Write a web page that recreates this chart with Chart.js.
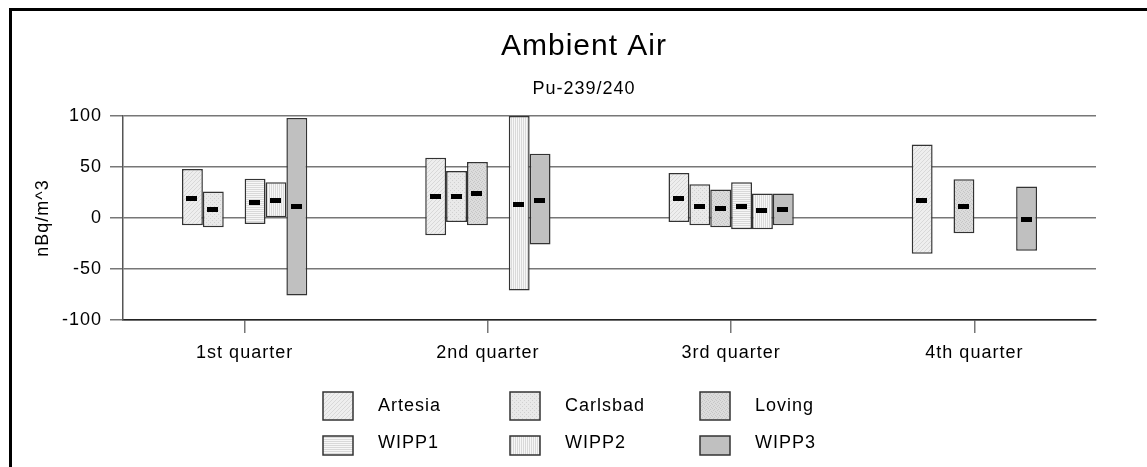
<!DOCTYPE html>
<html>
<head>
<meta charset="utf-8">
<script src="https://cdn.jsdelivr.net/npm/chart.js"></script>
<style>
  html, body { margin: 0; padding: 0; background: #fff; }
  #wrap { position: relative; width: 1147px; height: 467px; }
</style>
</head>
<body>
<div id="wrap"><canvas id="chart"></canvas></div>
<script>
// Ambient air Pu-239/240 - range bars per sampling site, one group per quarter

const chartTitle = 'Ambient Air';
const chartSubtitle = 'Pu-239/240';
const quarters = ['1st quarter', '2nd quarter', '3rd quarter', '4th quarter'];
const sites = ['Artesia', 'Carlsbad', 'Loving', 'WIPP1', 'WIPP2', 'WIPP3'];
const yTicks = [-100, -50, 0, 50, 100];

// low end, high end and measured value of each range (nBq/m^3), null = no sample
const artesiaLow   = [-7, -17, -4, -35];
const artesiaHigh  = [48, 59, 44, 72];
const artesiaMid   = [19, 21, 19, 17];

const carlsbadLow  = [-9, -4, -7, null];
const carlsbadHigh = [26, 46, 33, null];
const carlsbadMid  = [8, 21, 11, null];

const lovingLow    = [null, -7, -9, -15];
const lovingHigh   = [null, 55, 28, 38];
const lovingMid    = [null, 24, 9.5, 11];

const wipp1Low     = [-6, null, -11, null];
const wipp1High    = [38.5, null, 35, null];
const wipp1Mid     = [15, null, 11, null];

const wipp2Low     = [0, -71, -11, null];
const wipp2High    = [35, 100, 24, null];
const wipp2Mid     = [17.5, 13.5, 7, null];

const wipp3Low     = [-76, -26, -7, -32];
const wipp3High    = [98, 63, 24, 31];
const wipp3Mid     = [11, 17.5, 8, -1];

const lows  = [artesiaLow, carlsbadLow, lovingLow, wipp1Low, wipp2Low, wipp3Low];
const highs = [artesiaHigh, carlsbadHigh, lovingHigh, wipp1High, wipp2High, wipp3High];
const mids  = [artesiaMid, carlsbadMid, lovingMid, wipp1Mid, wipp2Mid, wipp3Mid];

const FONT = '"Liberation Sans", Arial, sans-serif';

// Small grey fill textures, like the old spreadsheet patterns
function makePattern(kind) {
  const c = document.createElement('canvas');
  c.width = 4;
  c.height = 4;
  const g = c.getContext('2d');
  const dot = (x, y, col) => { g.fillStyle = col; g.fillRect(x, y, 1, 1); };

  if (kind === 'diag') {
    g.fillStyle = '#eeeeee'; g.fillRect(0, 0, 4, 4);
    for (let i = 0; i < 4; i++) dot(i, 3 - i, '#d8d8d8');
  } else if (kind === 'dots') {
    g.fillStyle = '#e9e9e9'; g.fillRect(0, 0, 4, 4);
    dot(0, 0, '#d0d0d0'); dot(2, 2, '#d0d0d0');
  } else if (kind === 'dense') {
    g.fillStyle = '#dcdcdc'; g.fillRect(0, 0, 4, 4);
    dot(0, 0, '#c6c6c6'); dot(2, 1, '#c6c6c6'); dot(1, 2, '#c6c6c6'); dot(3, 3, '#c6c6c6');
  } else if (kind === 'hstripe') {
    g.fillStyle = '#d9d9d9'; g.fillRect(0, 0, 4, 4);
    g.fillStyle = '#f7f7f7'; g.fillRect(0, 0, 4, 1); g.fillRect(0, 2, 4, 1);
  } else if (kind === 'vstripe') {
    g.fillStyle = '#d9d9d9'; g.fillRect(0, 0, 4, 4);
    g.fillStyle = '#f7f7f7'; g.fillRect(0, 0, 1, 4); g.fillRect(2, 0, 1, 4);
  } else {
    g.fillStyle = '#c0c0c0'; g.fillRect(0, 0, 4, 4);
  }
  return g.createPattern(c, 'repeat');
}

const fills = ['diag', 'dots', 'dense', 'hstripe', 'vstripe', 'solid'].map(makePattern);

const datasets = sites.map((name, s) => ({
  label: name,
  data: lows[s].map((lo, i) => (lo === null ? null : [lo, highs[s][i]])),
  backgroundColor: fills[s],
  borderColor: '#333',
  borderWidth: 1.5,
  borderSkipped: false,
  categoryPercentage: 0.515,
  barPercentage: 1
}));

Chart.defaults.font.family = FONT;
Chart.defaults.color = '#000';

// spreadsheet text is a little wider than plain Arial
const spacingPlugin = {
  id: 'spacing',
  beforeLayout(chart) { chart.ctx.letterSpacing = '1px'; },
  beforeDraw(chart) { chart.ctx.letterSpacing = '1px'; }
};

// black tick marker for the measured value inside each bar
const markerPlugin = {
  id: 'markers',
  afterDatasetsDraw(chart) {
    const ctx = chart.ctx;
    const yScale = chart.scales.y;
    ctx.save();
    ctx.fillStyle = '#000';
    chart.data.datasets.forEach((ds, s) => {
      const meta = chart.getDatasetMeta(s);
      meta.data.forEach((bar, i) => {
        const v = mids[s][i];
        if (v === null || ds.data[i] === null) return;
        const y = yScale.getPixelForValue(v);
        ctx.fillRect(Math.round(bar.x - 6), Math.round(y - 2.5), 11, 5);
      });
    });
    ctx.restore();
  }
};

// titles, legend in a 3 x 2 grid, and the frame around the chart
const decorPlugin = {
  id: 'decor',
  afterDraw(chart) {
    const ctx = chart.ctx;
    ctx.save();
    ctx.letterSpacing = '1px';
    ctx.fillStyle = '#000';
    ctx.textAlign = 'center';
    ctx.textBaseline = 'alphabetic';
    ctx.font = '30px ' + FONT;
    ctx.fillText(chartTitle, 584, 55);
    ctx.font = '18px ' + FONT;
    ctx.fillText(chartSubtitle, 584, 94);

    const colX = [323, 510, 700];
    const boxTop = [392, 436];
    const boxH = [28, 19];
    const textY = [406, 443];
    ctx.textBaseline = 'middle';
    ctx.textAlign = 'left';
    chart.data.datasets.forEach((ds, s) => {
      const col = s % 3;
      const row = Math.floor(s / 3);
      const x = colX[col];
      ctx.fillStyle = ds.backgroundColor;
      ctx.fillRect(x, boxTop[row], 30, boxH[row]);
      ctx.strokeStyle = '#333';
      ctx.lineWidth = 1.5;
      ctx.strokeRect(x, boxTop[row], 30, boxH[row]);
      ctx.fillStyle = '#000';
      ctx.fillText(ds.label, x + 55, textY[row]);
    });

    ctx.fillStyle = '#000';
    ctx.fillRect(9, 8, chart.width - 9, 3);
    ctx.fillRect(9, 8, 3, chart.height - 8);
    ctx.restore();
  }
};

new Chart(document.getElementById('chart'), {
  type: 'bar',
  data: { labels: quarters, datasets: datasets },
  options: {
    responsive: true,
    maintainAspectRatio: false,
    animation: false,
    layout: { padding: { top: 116, left: 0, right: 51, bottom: 0 } },
    scales: {
      x: {
        offset: true,
        grid: { offset: false, drawOnChartArea: false, drawTicks: true, tickLength: 13, color: '#777', lineWidth: 1.5 },
        border: { display: true, color: '#222', width: 1.5 },
        ticks: { font: { size: 18 }, padding: 9, maxRotation: 0, autoSkip: false },
        afterFit: s => { s.height = 147; }
      },
      y: {
        min: yTicks[0],
        max: yTicks[yTicks.length - 1],
        afterBuildTicks: s => { s.ticks = yTicks.map(v => ({ value: v })); },
        ticks: { font: { size: 18 }, padding: 8 },
        grid: { color: '#777', lineWidth: 1.5, tickLength: 13, drawTicks: true },
        border: { color: '#555', width: 1.5 },
        title: { display: true, text: 'nBq/m^3', font: { size: 18 }, padding: { top: 32, bottom: 0 } },
        afterFit: s => { s.width = 123; }
      }
    },
    plugins: {
      legend: { display: false },
      tooltip: { enabled: false }
    }
  },
  plugins: [spacingPlugin, markerPlugin, decorPlugin]
});
</script>
</body>
</html>
